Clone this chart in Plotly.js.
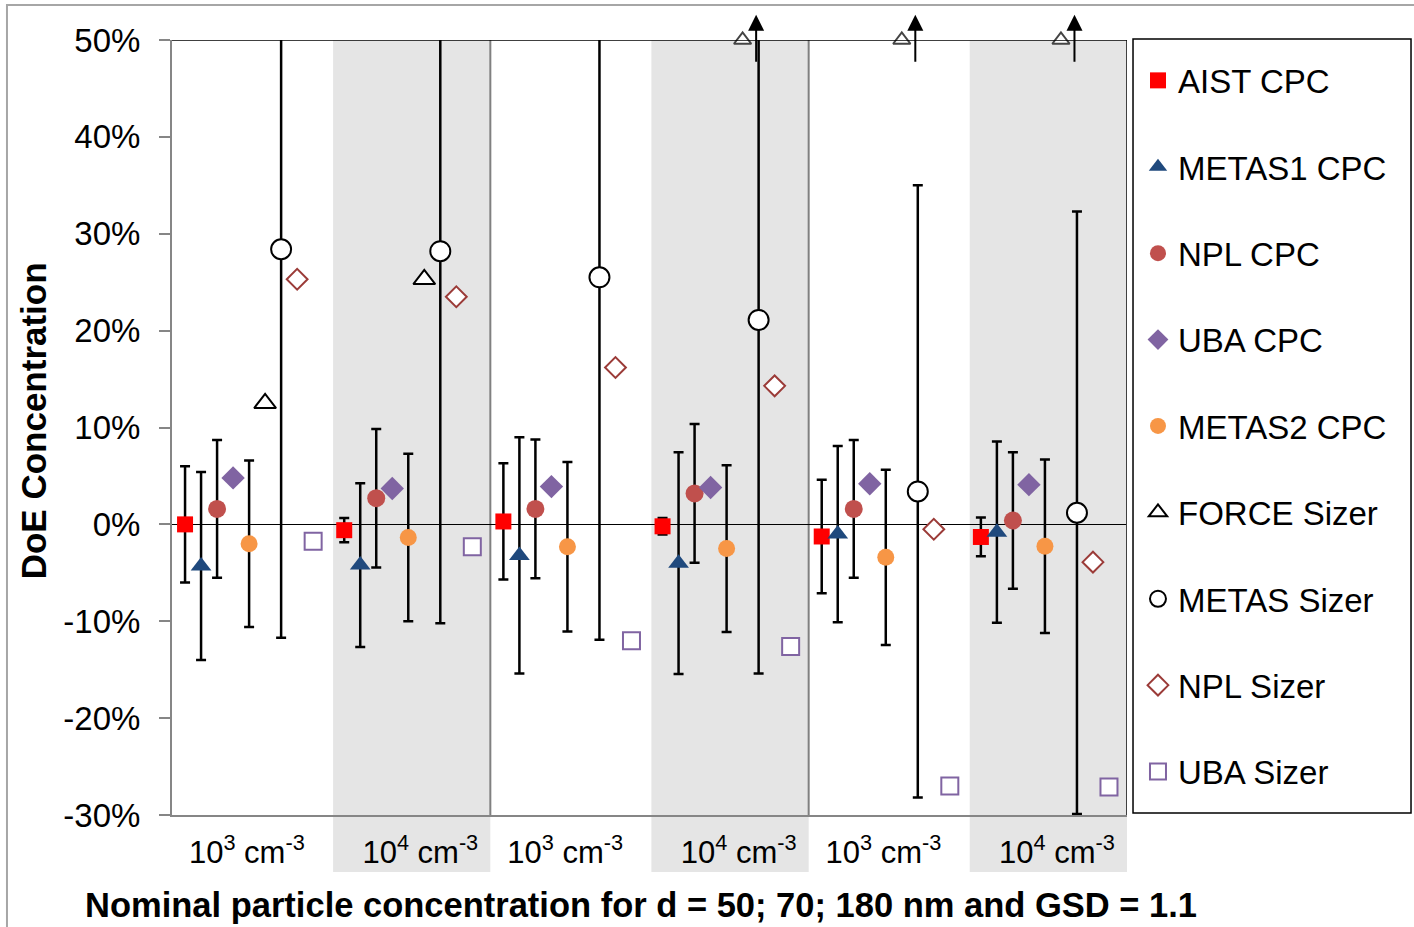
<!DOCTYPE html>
<html>
<head>
<meta charset="utf-8">
<script src="https://cdn.plot.ly/plotly-3.0.1.min.js"></script>
<style>html,body{margin:0;padding:0;background:#fff;}#chart{width:1414px;height:927px;}</style>
</head>
<body>
<div id="chart"></div>
<script>
// ---- data (values in %) ----
const groupLabels = ["10<sup>3</sup> cm<sup>-3</sup>", "10<sup>4</sup> cm<sup>-3</sup>", "10<sup>3</sup> cm<sup>-3</sup>", "10<sup>4</sup> cm<sup>-3</sup>", "10<sup>3</sup> cm<sup>-3</sup>", "10<sup>4</sup> cm<sup>-3</sup>"];
const seriesNames = ["AIST CPC", "METAS1 CPC", "NPL CPC", "UBA CPC", "METAS2 CPC", "FORCE Sizer", "METAS Sizer", "NPL Sizer", "UBA Sizer"];
const xTitle = "Nominal particle concentration for d = 50; 70; 180 nm and GSD = 1.1";
const yTitle = "DoE Concentration";

const aistCpc      = [0.0, -0.6, 0.3, -0.2, -1.25, -1.3];
const aistCpcErr   = [6.0, 1.25, 6.0, 0.85, 5.85, 2.0];
const metas1Cpc    = [-4.3, -4.2, -3.2, -4.0, -1.0, -0.8];
const metas1CpcErr = [9.7, 8.45, 12.2, 11.45, 9.1, 9.35];
const nplCpc       = [1.6, 2.7, 1.6, 3.2, 1.6, 0.4];
const nplCpcErr    = [7.1, 7.15, 7.15, 7.15, 7.1, 7.05];
const ubaCpc       = [4.8, 3.7, 3.9, 3.8, 4.2, 4.1];
const metas2Cpc    = [-2.0, -1.35, -2.3, -2.5, -3.4, -2.25];
const metas2CpcErr = [8.6, 8.65, 8.75, 8.6, 9.05, 8.95];
const forceSizer   = [12.5, 25.3, null, null, null, null];
const forceOffScale = [false, false, false, true, true, true]; // value above 50 %
const metasSizer   = [28.4, 28.2, 25.5, 21.1, 3.4, 1.2];
const metasSizerErr = [40.1, 38.4, 37.4, 36.5, 31.6, 31.1];
const nplSizer     = [25.3, 23.5, 16.2, 14.3, -0.5, -3.9];
const ubaSizer     = [-1.75, -2.3, -12.0, -12.6, -27.0, -27.1];

const yTickVals = [-30, -20, -10, 0, 10, 20, 30, 40, 50];
const yTickText = ["-30%", "-20%", "-10%", "0%", "10%", "20%", "30%", "40%", "50%"];

// ---- positions ----
const nG = groupLabels.length;
function xs(j) { return groupLabels.map((_, g) => g + 0.082 + j * 0.1006); }
const yMax = 50;

const FONT = "Liberation Sans, Arial, sans-serif";
const eb = (arr) => ({type: 'data', array: arr, symmetric: true, color: '#000', thickness: 2.5, width: 5});

const traces = [
  {name: seriesNames[0], x: xs(0), y: aistCpc, error_y: eb(aistCpcErr),
   marker: {symbol: 'square', size: 16, color: '#FF0000'}},
  {name: seriesNames[1], x: xs(1), y: metas1Cpc, error_y: eb(metas1CpcErr),
   marker: {symbol: 'triangle-up', size: 18, color: '#1F497D'}},
  {name: seriesNames[2], x: xs(2), y: nplCpc, error_y: eb(nplCpcErr),
   marker: {symbol: 'circle', size: 18, color: '#C0504D'}},
  {name: seriesNames[3], x: xs(3), y: ubaCpc,
   marker: {symbol: 'diamond', size: 18, color: '#8064A2'}},
  {name: seriesNames[4], x: xs(4), y: metas2Cpc, error_y: eb(metas2CpcErr),
   marker: {symbol: 'circle', size: 17, color: '#F79646'}},
  {name: seriesNames[5], x: xs(5), y: forceSizer,
   marker: {symbol: 'triangle-up', size: 19, color: '#FFFFFF', line: {color: '#000', width: 2}}},
  {name: seriesNames[6], x: xs(6), y: metasSizer, error_y: eb(metasSizerErr),
   marker: {symbol: 'circle', size: 20, color: '#FFFFFF', line: {color: '#000', width: 2}}},
  {name: seriesNames[7], x: xs(7), y: nplSizer,
   marker: {symbol: 'diamond', size: 16, color: '#FFFFFF', line: {color: '#9B3B38', width: 2}}},
  {name: seriesNames[8], x: xs(8), y: ubaSizer,
   marker: {symbol: 'square', size: 17, color: '#FFFFFF', line: {color: '#8064A2', width: 2}}}
].map((t, i) => Object.assign({type: 'scatter', mode: 'markers', legendgroup: 'g' + i}, t));

// off-scale FORCE Sizer markers drawn at the top of the axis
const offX = xs(5).filter((_, g) => forceOffScale[g]);
traces.push({
  type: 'scatter', mode: 'markers', showlegend: false, cliponaxis: false,
  x: offX, y: offX.map(() => yMax),
  marker: {symbol: 'triangle-up', size: 15, color: '#FFFFFF', line: {color: '#444', width: 2}},
  hoverinfo: 'skip'
});

const shapes = [];
for (let g = 1; g < nG; g += 2) {
  shapes.push({type: 'rect', xref: 'x', yref: 'paper', x0: g + 0.012, x1: g + 1, y0: -0.0735, y1: 1,
    fillcolor: '#E5E5E5', line: {width: 0}, layer: 'below'});
}
[2, 4].forEach(v => shapes.push({type: 'line', xref: 'x', yref: 'paper', x0: v, x1: v, y0: 0, y1: 1,
  line: {color: '#808080', width: 2}, layer: 'below'}));
shapes.push({type: 'line', xref: 'x', yref: 'paper', x0: nG, x1: nG, y0: 0, y1: 1, line: {color: '#404040', width: 2}});
shapes.push({type: 'line', xref: 'x', yref: 'y', x0: 0, x1: nG, y0: yMax, y1: yMax, line: {color: '#000', width: 1.5}});
// outer chart frame
shapes.push({type: 'rect', xref: 'paper', yref: 'paper', x0: -0.1728, x1: 1.32, y0: -0.16, y1: 1.0452,
  line: {color: '#A6A6A6', width: 2}, fillcolor: 'rgba(0,0,0,0)'});
// legend frame
shapes.push({type: 'rect', xref: 'paper', yref: 'paper', x0: 1.0063, x1: 1.2974, y0: 0.0026, y1: 1.0013,
  line: {color: '#000', width: 1.5}, fillcolor: 'rgba(0,0,0,0)'});

// arrows marking off-scale values
const annotations = offX.map(x => ({
  x: x + 0.085, y: 52.6, ax: x + 0.085, ay: 47.6, xref: 'x', yref: 'y', axref: 'x', ayref: 'y',
  text: '', showarrow: true, arrowhead: 2, arrowsize: 1.6, arrowwidth: 2, arrowcolor: '#000'
}));
annotations.push({text: xTitle, xref: 'paper', yref: 'paper', x: 0.491, y: -0.116,
  xanchor: 'center', yanchor: 'middle', showarrow: false,
  font: {family: FONT, size: 34.5, color: '#000', weight: 'bold'}});
annotations.push({text: yTitle, xref: 'paper', yref: 'paper', x: -0.1455, y: 0.508, textangle: -90,
  xanchor: 'center', yanchor: 'middle', showarrow: false,
  font: {family: FONT, size: 35, color: '#000', weight: 'bold'}});

const layout = {
  width: 1414, height: 927,
  margin: {l: 172, r: 287, t: 40, b: 112},
  paper_bgcolor: '#FFFFFF', plot_bgcolor: 'rgba(0,0,0,0)',
  showlegend: true,
  legend: {x: 1.0115, y: 0.9974, xanchor: 'left', yanchor: 'top',
    borderwidth: 0, bgcolor: 'rgba(0,0,0,0)',
    font: {family: FONT, size: 33, color: '#000'},
    tracegroupgap: 40.5, itemsizing: 'trace', maxheight: 900,
    title: {text: ' ', font: {size: 8}}},
  xaxis: {range: [0, nG], showgrid: false, zeroline: false,
    tickvals: groupLabels.map((_, g) => g + 0.5 + (g % 2 ? 0.06 : -0.03)),
    ticktext: groupLabels, ticks: '', ticklabelstandoff: 9,
    tickfont: {family: FONT, size: 31, color: '#000'},
    showline: true, linecolor: '#868686', linewidth: 2},
  yaxis: {range: [-30, yMax], showgrid: false,
    tickvals: yTickVals, ticktext: yTickText,
    zeroline: true, zerolinecolor: '#000', zerolinewidth: 1,
    showline: true, linecolor: '#868686', linewidth: 2,
    ticks: 'outside', ticklen: 11, tickwidth: 2, tickcolor: '#868686', ticklabelstandoff: 12,
    tickfont: {family: FONT, size: 33, color: '#000'}},
  shapes: shapes,
  annotations: annotations
};

Plotly.newPlot('chart', traces, layout, {staticPlot: true, displayModeBar: false});
</script>
</body>
</html>
